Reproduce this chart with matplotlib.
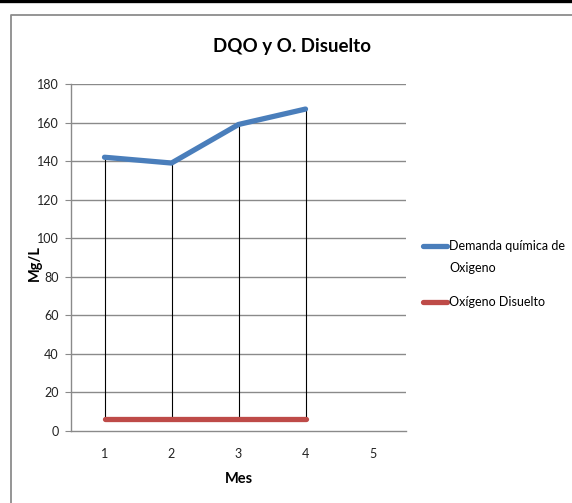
import matplotlib
matplotlib.use("Agg")
import matplotlib.pyplot as plt
from matplotlib.lines import Line2D

plt.rcParams['font.family'] = ['Lato', 'DejaVu Sans']

# Data
meses = [1, 2, 3, 4]
dqo = [142, 139, 159, 167]
oxigeno = [6, 6, 6, 6]
series_labels = ["Demanda química de\nOxigeno", "Oxígeno Disuelto"]
series_colors = ["#4a7ebb", "#be4b48"]
x_ticks = [1, 2, 3, 4, 5]
y_ticks = [0, 20, 40, 60, 80, 100, 120, 140, 160, 180]

W, H = 572, 503
fig = plt.figure(figsize=(W / 100, H / 100), dpi=100)
fig.patch.set_facecolor("white")

# outer page line and chart frame
fig.add_artist(Line2D([0, 1], [1 - 1.2 / H, 1 - 1.2 / H], color="black", lw=2.4))
fig.add_artist(Line2D([11 / W, 11 / W, 1], [0, 1 - 15 / H, 1 - 15 / H],
                      color="#8c8c8c", lw=1.3))

ax = fig.add_axes([71 / W, 1 - 431 / H, (406 - 71) / W, (431 - 84) / H])
ax.set_xlim(0.5, 5.5)
ax.set_ylim(0, 180)

grid_c = "#8a8a8a"
for y in y_ticks[1:]:
    ax.axhline(y, color=grid_c, lw=1.0, zorder=1)

# high-low lines between the two series
ax.vlines(meses, oxigeno, dqo, color="black", lw=0.8, zorder=2)

ax.plot(meses, dqo, color=series_colors[0], lw=3.8, solid_capstyle="round", zorder=3)
ax.plot(meses, oxigeno, color=series_colors[1], lw=3.8, solid_capstyle="round", zorder=3)

for s in ["top", "right"]:
    ax.spines[s].set_visible(False)
for s in ["left", "bottom"]:
    ax.spines[s].set_color(grid_c)
    ax.spines[s].set_linewidth(1.0)

ax.set_yticks(y_ticks)
ax.set_xticks(x_ticks)
ax.tick_params(axis="y", length=4, color=grid_c, pad=5, labelsize=9, labelcolor="#222222")
ax.tick_params(axis="x", length=0, pad=12, labelsize=9, labelcolor="#222222")

ax.set_xlabel("Mes", fontsize=10.5, fontweight="bold", labelpad=9)
ax.set_ylabel("Mg/L", fontsize=10.5, fontweight="bold")
ax.yaxis.set_label_coords(-0.088, 0.485)

fig.text(292 / W, 1 - 46 / H, "DQO y O. Disuelto", ha="center", va="center",
         fontsize=13.5, fontweight="bold")

# legend
leg_y = [246, 302]
for lab, col, yy in zip(series_labels, series_colors, leg_y):
    fig.add_artist(Line2D([423 / W, 447 / W], [1 - yy / H, 1 - yy / H],
                          color=col, lw=3.8, solid_capstyle="round"))
    fig.text(449 / W, 1 - (yy - 6) / H, lab, ha="left", va="top",
             fontsize=9, linespacing=2.05)

fig.savefig("out.png", dpi=100)
